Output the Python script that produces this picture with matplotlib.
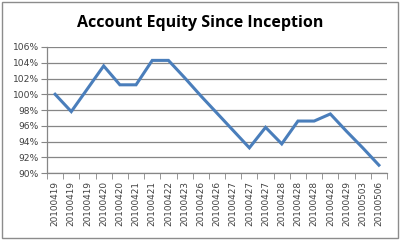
import matplotlib
matplotlib.use("Agg")
import matplotlib.pyplot as plt
from matplotlib.patches import Rectangle
from matplotlib.ticker import FuncFormatter, FixedLocator

# === Data ===
dates = ["20100419", "20100419", "20100419", "20100420", "20100420", "20100421",
         "20100421", "20100422", "20100423", "20100426", "20100426", "20100427",
         "20100427", "20100427", "20100428", "20100428", "20100428", "20100428",
         "20100429", "20100503", "20100506"]
equity = [100.0, 97.8, 100.7, 103.6, 101.2, 101.2, 104.3, 104.3, 102.1, 99.8, 97.6,
          95.4, 93.2, 95.8, 93.7, 96.6, 96.6, 97.5, 95.3, 93.2, 91.0]

grid_grey = "#868686"
text_grey = "#404040"

fig = plt.figure(figsize=(4.0, 2.41), dpi=100)
ax = fig.add_axes([0.1175, 0.282, 0.85, 0.523])

x = list(range(len(dates)))
ax.plot(x, equity, color="#4a7ebb", linewidth=2.2, solid_joinstyle="miter", zorder=3)

ax.set_xlim(-0.5, len(dates) - 0.5)
ax.set_ylim(90, 106)
ax.set_yticks(range(90, 107, 2))
ax.yaxis.set_major_formatter(FuncFormatter(lambda v, p: f"{v:.0f}%"))
ax.grid(axis="y", color=grid_grey, linewidth=0.9)

ax.set_xticks(x)
ax.set_xticklabels(dates, rotation=90, fontsize=6.4, color=text_grey)
ax.xaxis.set_minor_locator(FixedLocator([i - 0.5 for i in range(len(dates) + 1)]))
ax.tick_params(axis="x", which="major", length=0, pad=6)
ax.tick_params(axis="x", which="minor", length=4, color=grid_grey, direction="out")
ax.tick_params(axis="y", length=4, color=grid_grey, labelsize=6.6, labelcolor=text_grey, pad=2)

for s in ["top", "right"]:
    ax.spines[s].set_visible(False)
for s in ["left", "bottom"]:
    ax.spines[s].set_color(grid_grey)
    ax.spines[s].set_linewidth(0.9)

fig.text(0.5, 0.905, "Account Equity Since Inception", ha="center", va="center",
         fontsize=11.5, fontweight="bold", family="Open Sans", color="black")

fig.patches.append(Rectangle((0.004, 0.012), 0.99, 0.98, transform=fig.transFigure,
                             fill=False, edgecolor="#8c8c8c", linewidth=1.0))

fig.savefig("out.png", dpi=100)
